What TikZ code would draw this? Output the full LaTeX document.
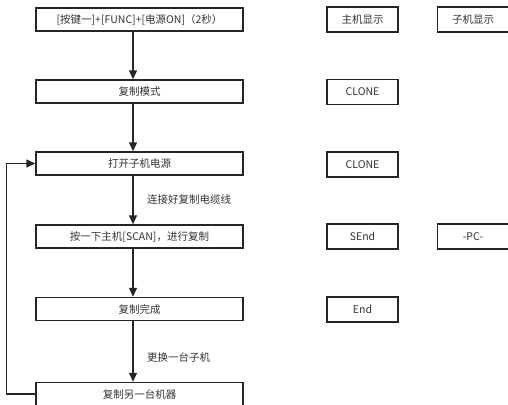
\documentclass[tikz,border=0pt]{standalone}
\usepackage{fontspec}
\setmainfont{Noto Sans CJK SC}
\usetikzlibrary{arrows.meta}

\begin{document}
\begin{tikzpicture}[x=1pt,y=-1pt,
    step box/.style={draw=black!85,line width=1.5pt,minimum width=207pt,minimum height=23pt,inner sep=0pt,font=\fontsize{10.5}{12}\selectfont,text=black!80},
    disp box/.style={step box,minimum width=71pt,minimum height=25pt},
    flow/.style={draw=black!85,line width=1.5pt,-{Triangle[length=9pt,width=8pt]}},
    note/.style={anchor=west,inner sep=0pt,font=\fontsize{10.5}{12}\selectfont,text=black!80}]
  \useasboundingbox (0,0) rectangle (508,404);
  % steps on the left
  \node[step box] (keys) at (139.5,19.5) {[按键一]+[FUNC]+[电源ON]（2秒）};
  \node[step box] (mode) at (139.5,91.5) {复制模式};
  \node[step box] (power) at (139.5,163.5) {打开子机电源};
  \node[step box] (scan) at (139.5,236.5) {按一下主机[SCAN]，进行复制};
  \node[step box] (done) at (139.5,309) {复制完成};
  \node[step box] (again) at (139.5,394) {复制另一台机器};
  % what the displays show
  \node[disp box] (host) at (362.5,19.5) {主机显示};
  \node[disp box] (sub) at (473,19.5) {子机显示};
  \node[disp box] (clonea) at (362.5,92) {CLONE};
  \node[disp box] (cloneb) at (362.5,164.5) {CLONE};
  \node[disp box] (send) at (362.5,236.5) {SEnd};
  \node[disp box] (pc) at (473,236.5) {-PC-};
  \node[disp box] (end) at (362.5,309.5) {End};
  % arrows
  \coordinate (spine) at (133,0);
  \draw[flow] (keys.south -| spine) -- (mode.north -| spine);
  \draw[flow] (mode.south -| spine) -- (power.north -| spine);
  \draw[flow] (power.south -| spine) -- (scan.north -| spine);
  \draw[flow] (scan.south -| spine) -- (done.north -| spine);
  \draw[flow] (done.south -| spine) -- (again.north -| spine);
  \draw[flow] (again.west) -- ++(-29,0) |- (power.west);
  \node[note] (cable) at (147,200) {连接好复制电缆线};
  \node[note] (swap) at (147,357) {更换一台子机};
\end{tikzpicture}
\end{document}
